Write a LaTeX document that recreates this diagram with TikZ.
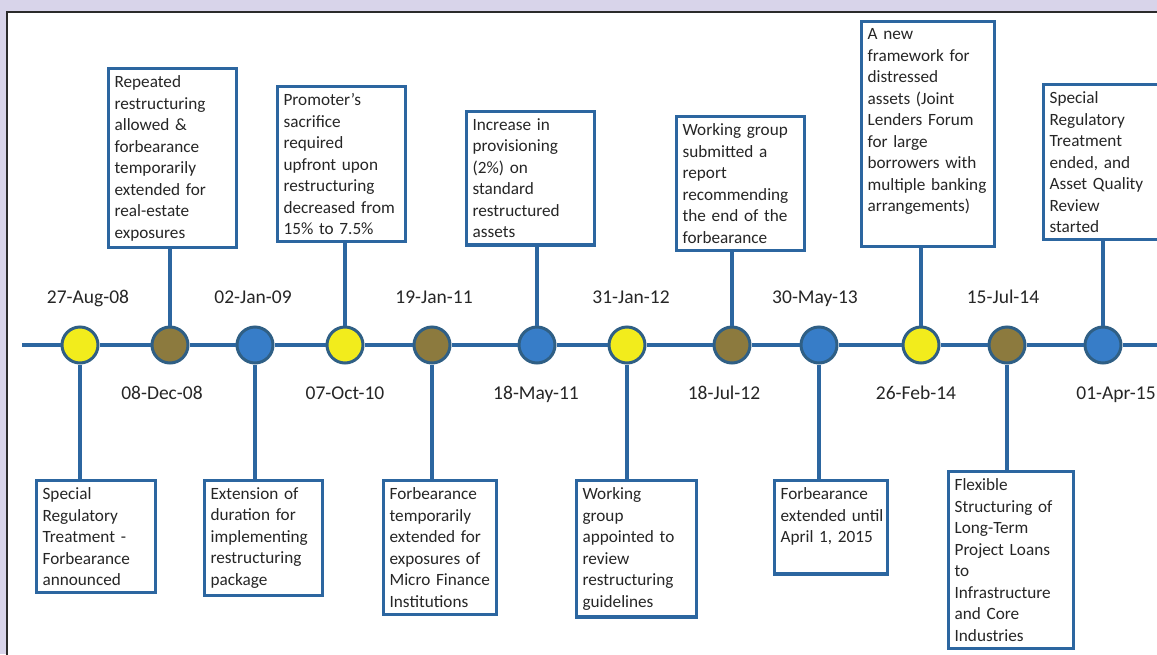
\documentclass[tikz,border=0pt]{standalone}
\usepackage{fontspec}
\setmainfont{Carlito}
\usepackage{tikz}
\usetikzlibrary{positioning}
\definecolor{bglav}{HTML}{D8D4EA}
\definecolor{linkblue}{HTML}{2C66A0}
\definecolor{rimblue}{HTML}{2F5F85}
\definecolor{dotblue}{HTML}{377DC8}
\definecolor{dotyellow}{HTML}{F2EC1C}
\definecolor{dotolive}{HTML}{8C7A3E}
\definecolor{txtgray}{HTML}{262626}
\definecolor{framegray}{HTML}{2B2B2B}
\tikzset{
  event/.style={circle, draw=rimblue, line width=3pt, minimum size=36pt, inner sep=0pt},
  evblue/.style={event, fill=dotblue},
  evyellow/.style={event, fill=dotyellow},
  evolive/.style={event, fill=dotolive},
  datelbl/.style={inner sep=0pt, text height=13pt, text depth=0pt, text=txtgray, font=\fontsize{19.5}{24}\selectfont},
  note/.style={rectangle, draw=linkblue, line width=3.2pt, fill=white, anchor=north west, align=left,
    inner xsep=6pt, inner ysep=7pt, text=txtgray, font=\fontsize{17.2}{21.5}\selectfont,
    execute at begin node={\hyphenpenalty=10000\exhyphenpenalty=10000}},
  spine/.style={draw=linkblue, line width=3.2pt},
}

\begin{document}
\begin{tikzpicture}[x=1pt, y=-1pt]
  \useasboundingbox (0,0) rectangle (1157,654);
  \fill[bglav] (0,0) rectangle (1157,654);
  \draw[framegray, line width=1.8pt, fill=white] (7,12) rectangle (1180,680);

  % events on the time line
  \foreach \x/\k/\s in {80/1/evyellow, 170/2/evolive, 255/3/evblue, 345/4/evyellow,
      432/5/evolive, 537/6/evblue, 627/7/evyellow, 732/8/evolive,
      819/9/evblue, 921/10/evyellow, 1007/11/evolive, 1103/12/evblue}
    \node[\s] (c\k) at (\x,345) {};
  \coordinate (tlstart) at (22,345);
  \coordinate (tlend) at (1160,345);

  % dates
  \node[datelbl, above=21.5pt of c1, xshift=8pt] (d1) {27-Aug-08};
  \node[datelbl, below=21.5pt of c2, xshift=-8pt] (d2) {08-Dec-08};
  \node[datelbl, above=21.5pt of c3, xshift=-2pt] (d3) {02-Jan-09};
  \node[datelbl, below=21.5pt of c4] (d4) {07-Oct-10};
  \node[datelbl, above=21.5pt of c5, xshift=2pt] (d5) {19-Jan-11};
  \node[datelbl, below=21.5pt of c6, xshift=-1pt] (d6) {18-May-11};
  \node[datelbl, above=21.5pt of c7, xshift=4pt] (d7) {31-Jan-12};
  \node[datelbl, below=21.5pt of c8, xshift=-8pt] (d8) {18-Jul-12};
  \node[datelbl, above=21.5pt of c9, xshift=-4pt] (d9) {30-May-13};
  \node[datelbl, below=21.5pt of c10, xshift=-5pt] (d10) {26-Feb-14};
  \node[datelbl, above=21.5pt of c11, xshift=-4pt] (d11) {15-Jul-14};
  \node[datelbl, below=21.5pt of c12, xshift=13pt] (d12) {01-Apr-15};

  % boxes above the line
  \node[note, text width=116pt] (boxA) at (107,67) {Repeated\\restructuring\\allowed \&\\forbearance\\temporarily\\extended for\\real-estate\\exposures};
  \node[note, text width=116pt] (boxB) at (276,85) {Promoter’s\\sacrifice\\required\\upfront upon\\restructuring\\\mbox{decreased from}\\15\% to 7.5\%};
  \node[note, text width=116pt] (boxC) at (465,110) {Increase in\\provisioning\\(2\%) on\\standard\\restructured\\assets};
  \node[note, text width=116pt] (boxD) at (675,115) {\mbox{Working group}\\submitted a\\report\\recommending\\the end of the\\forbearance};
  \node[note, text width=121pt] (boxE) at (860,20) {A new\\framework for\\distressed\\assets (Joint\\\mbox{Lenders Forum}\\for large\\borrowers with\\\mbox{multiple banking}\\arrangements)\\[6pt]\mbox{}};
  \node[note, text width=118pt] (boxF) at (1042,83) {Special\\Regulatory\\Treatment\\ended, and\\\mbox{Asset Quality}\\Review\\started};

  % boxes below the line
  \node[note, text width=107pt] (boxG) at (35,479) {Special\\Regulatory\\Treatment -\\Forbearance\\announced};
  \node[note, text width=106pt] (boxH) at (203,479) {Extension of\\duration for\\implementing\\restructuring\\package};
  \node[note, text width=101pt] (boxI) at (382,479) {Forbearance\\temporarily\\extended for\\exposures of\\\mbox{Micro Finance}\\Institutions};
  \node[note, text width=108pt] (boxJ) at (575,479) {Working\\group\\appointed to\\review\\restructuring\\guidelines};
  \node[note, text width=101pt] (boxK) at (773,479) {Forbearance\\\mbox{extended until}\\April 1, 2015\\[3pt]\mbox{}};
  \node[note, text width=113pt] (boxL) at (947,470) {Flexible\\Structuring of\\Long-Term\\Project Loans\\to\\Infrastructure\\and Core\\Industries};

  % time line and stems
  \draw[spine] (tlstart) -- (c1) -- (c2) -- (c3) -- (c4) -- (c5) -- (c6) -- (c7)
    -- (c8) -- (c9) -- (c10) -- (c11) -- (c12) -- (tlend);
  \draw[spine] (c2) -- (c2 |- boxA.south);
  \draw[spine] (c4) -- (c4 |- boxB.south);
  \draw[spine] (c6) -- (c6 |- boxC.south);
  \draw[spine] (c8) -- (c8 |- boxD.south);
  \draw[spine] (c10) -- (c10 |- boxE.south);
  \draw[spine] (c12) -- (c12 |- boxF.south);
  \draw[spine] (c1) -- (c1 |- boxG.north);
  \draw[spine] (c3) -- (c3 |- boxH.north);
  \draw[spine] (c5) -- (c5 |- boxI.north);
  \draw[spine] (c7) -- (c7 |- boxJ.north);
  \draw[spine] (c9) -- (c9 |- boxK.north);
  \draw[spine] (c11) -- (c11 |- boxL.north);
\end{tikzpicture}
\end{document}
